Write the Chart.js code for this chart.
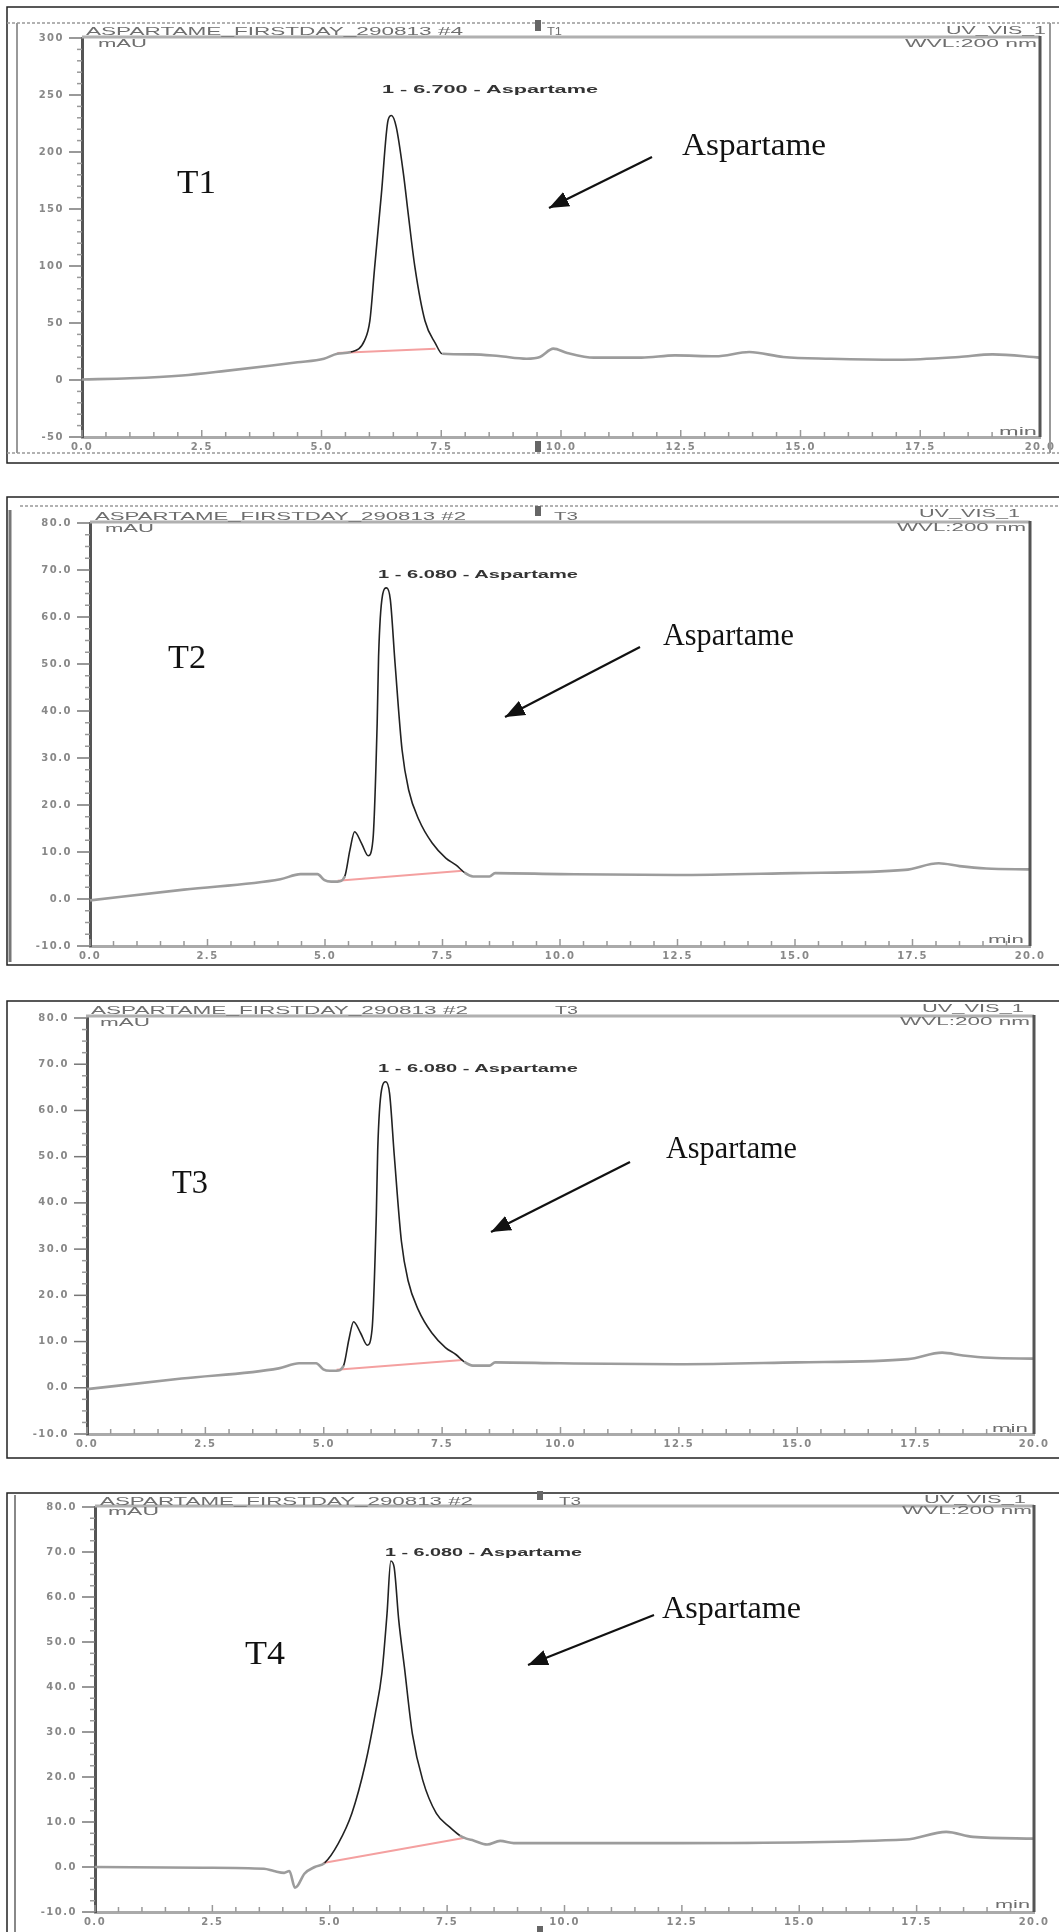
<!DOCTYPE html>
<html>
<head>
<meta charset="utf-8">
<script src="https://cdn.jsdelivr.net/npm/chart.js"></script>
<style>
html, body { margin: 0; padding: 0; background: #fff; }
#page { position: relative; width: 1059px; height: 1932px; overflow: hidden; }
canvas { position: absolute; left: 0; }
#over { position: absolute; left: 0; top: 0; pointer-events: none; }
.hdr { font: 11px 'Liberation Sans', Arial, sans-serif; fill: #6e6e6e; }
.pk { font: bold 10px 'Liberation Sans', Arial, sans-serif; fill: #333; }
.big { font: 34px 'Liberation Serif', 'Times New Roman', serif; fill: #111; }
.asp { font: 31px 'Liberation Serif', 'Times New Roman', serif; fill: #111; }
.frame { fill: none; stroke: #222; stroke-width: 1.5; }
.dot { stroke: #999; stroke-width: 1.5; stroke-dasharray: 3 2; }
.hline { stroke: #b0b0b0; stroke-width: 3; }
.vline { stroke: #555; stroke-width: 3; }
.arr { stroke: #111; stroke-width: 2.2; }
.mk { fill: #666; }
</style>
</head>
<body>
<div id="page">
<canvas id="c1"></canvas>
<canvas id="c2"></canvas>
<canvas id="c3"></canvas>
<canvas id="c4"></canvas>

<svg id="over" width="1059" height="1932" xmlns="http://www.w3.org/2000/svg">
  <defs>
    <marker id="ah" viewBox="0 0 10 8" refX="10" refY="4" markerWidth="9" markerHeight="7.5" orient="auto">
      <path d="M0,0 L10,4 L0,8 z" fill="#111"/>
    </marker>
  </defs>

  <!-- T1 -->
  <rect class="frame" x="7" y="7" width="1060" height="456"/>
  <line class="dot" x1="7" y1="23" x2="1059" y2="23"/>
  <line class="dot" x1="7" y1="453" x2="1059" y2="453"/>
  <line x1="17" y1="23" x2="17" y2="453" stroke="#999" stroke-width="2"/>
  <line x1="1050" y1="23" x2="1050" y2="453" stroke="#999" stroke-width="2"/>
  <line class="hline" x1="82" y1="37" x2="1040" y2="37"/>
  <line class="vline" x1="1040" y1="36" x2="1040" y2="437"/>
  <rect class="mk" x="535" y="20" width="6" height="11"/>
  <rect class="mk" x="535" y="441" width="6" height="11"/>
  <text class="hdr" x="86" y="35" textLength="377" lengthAdjust="spacingAndGlyphs">ASPARTAME_FIRSTDAY_290813 #4</text>
  <text class="hdr" x="547" y="35" textLength="15" lengthAdjust="spacingAndGlyphs">T1</text>
  <text class="hdr" x="946" y="34" textLength="100" lengthAdjust="spacingAndGlyphs">UV_VIS_1</text>
  <text class="hdr" x="905" y="47" textLength="132" lengthAdjust="spacingAndGlyphs">WVL:200 nm</text>
  <text class="hdr" x="98" y="47" textLength="49" lengthAdjust="spacingAndGlyphs">mAU</text>
  <text class="hdr" x="999" y="435" textLength="38" lengthAdjust="spacingAndGlyphs">min</text>
  <text class="pk" x="382" y="93" textLength="216" lengthAdjust="spacingAndGlyphs">1 - 6.700 - Aspartame</text>
  <text class="big" x="177" y="193" textLength="39" lengthAdjust="spacingAndGlyphs">T1</text>
  <text class="asp" x="682" y="155" textLength="144" lengthAdjust="spacingAndGlyphs">Aspartame</text>
  <line class="arr" x1="652" y1="157" x2="549" y2="208" marker-end="url(#ah)"/>

  <!-- T2 -->
  <rect class="frame" x="7" y="497" width="1060" height="468"/>
  <line class="dot" x1="20" y1="506" x2="1059" y2="506"/>
  <line x1="10" y1="510" x2="10" y2="962" stroke="#777" stroke-width="3"/>
  <line class="hline" x1="90" y1="522" x2="1030" y2="522"/>
  <line class="vline" x1="1030" y1="521" x2="1030" y2="946"/>
  <rect class="mk" x="535" y="506" width="6" height="10"/>
  <text class="hdr" x="95" y="520" textLength="371" lengthAdjust="spacingAndGlyphs">ASPARTAME_FIRSTDAY_290813 #2</text>
  <text class="hdr" x="554" y="520" textLength="24" lengthAdjust="spacingAndGlyphs">T3</text>
  <text class="hdr" x="919" y="517" textLength="101" lengthAdjust="spacingAndGlyphs">UV_VIS_1</text>
  <text class="hdr" x="897" y="531" textLength="129" lengthAdjust="spacingAndGlyphs">WVL:200 nm</text>
  <text class="hdr" x="105" y="532" textLength="49" lengthAdjust="spacingAndGlyphs">mAU</text>
  <text class="hdr" x="988" y="943" textLength="36" lengthAdjust="spacingAndGlyphs">min</text>
  <text class="pk" x="378" y="578" textLength="200" lengthAdjust="spacingAndGlyphs">1 - 6.080 - Aspartame</text>
  <text class="big" x="168" y="668" textLength="38" lengthAdjust="spacingAndGlyphs">T2</text>
  <text class="asp" x="663" y="645" textLength="131" lengthAdjust="spacingAndGlyphs">Aspartame</text>
  <line class="arr" x1="640" y1="647" x2="505" y2="717" marker-end="url(#ah)"/>

  <!-- T3 -->
  <rect class="frame" x="7" y="1001" width="1060" height="457"/>
  <line class="hline" x1="86" y1="1016" x2="1034" y2="1016"/>
  <line class="vline" x1="1034" y1="1015" x2="1034" y2="1434"/>
  <text class="hdr" x="91" y="1014" textLength="377" lengthAdjust="spacingAndGlyphs">ASPARTAME_FIRSTDAY_290813 #2</text>
  <text class="hdr" x="555" y="1014" textLength="23" lengthAdjust="spacingAndGlyphs">T3</text>
  <text class="hdr" x="922" y="1012" textLength="102" lengthAdjust="spacingAndGlyphs">UV_VIS_1</text>
  <text class="hdr" x="900" y="1025" textLength="130" lengthAdjust="spacingAndGlyphs">WVL:200 nm</text>
  <text class="hdr" x="100" y="1026" textLength="50" lengthAdjust="spacingAndGlyphs">mAU</text>
  <text class="hdr" x="992" y="1432" textLength="36" lengthAdjust="spacingAndGlyphs">min</text>
  <text class="pk" x="378" y="1072" textLength="200" lengthAdjust="spacingAndGlyphs">1 - 6.080 - Aspartame</text>
  <text class="big" x="172" y="1193" textLength="36" lengthAdjust="spacingAndGlyphs">T3</text>
  <text class="asp" x="666" y="1158" textLength="131" lengthAdjust="spacingAndGlyphs">Aspartame</text>
  <line class="arr" x1="630" y1="1162" x2="491" y2="1232" marker-end="url(#ah)"/>

  <!-- T4 -->
  <rect class="frame" x="7" y="1493" width="1060" height="460"/>
  <line x1="15" y1="1495" x2="15" y2="1932" stroke="#888" stroke-width="2"/>
  <line class="hline" x1="95" y1="1506" x2="1034" y2="1506"/>
  <line class="vline" x1="1034" y1="1505" x2="1034" y2="1912"/>
  <rect class="mk" x="537" y="1491" width="6" height="9"/>
  <rect class="mk" x="537" y="1926" width="6" height="6"/>
  <text class="hdr" x="100" y="1505" textLength="373" lengthAdjust="spacingAndGlyphs">ASPARTAME_FIRSTDAY_290813 #2</text>
  <text class="hdr" x="559" y="1505" textLength="22" lengthAdjust="spacingAndGlyphs">T3</text>
  <text class="hdr" x="924" y="1503" textLength="102" lengthAdjust="spacingAndGlyphs">UV_VIS_1</text>
  <text class="hdr" x="902" y="1514" textLength="130" lengthAdjust="spacingAndGlyphs">WVL:200 nm</text>
  <text class="hdr" x="108" y="1515" textLength="51" lengthAdjust="spacingAndGlyphs">mAU</text>
  <text class="hdr" x="995" y="1908" textLength="35" lengthAdjust="spacingAndGlyphs">min</text>
  <text class="pk" x="385" y="1556" textLength="197" lengthAdjust="spacingAndGlyphs">1 - 6.080 - Aspartame</text>
  <text class="big" x="245" y="1664" textLength="40" lengthAdjust="spacingAndGlyphs">T4</text>
  <text class="asp" x="662" y="1618" textLength="139" lengthAdjust="spacingAndGlyphs">Aspartame</text>
  <line class="arr" x1="654" y1="1615" x2="528" y2="1665" marker-end="url(#ah)"/>
</svg>
</div>

<script>
// retention time (min) and absorbance (mAU)
const t1Time = [0, 1, 2.09, 3, 3.92, 4.5, 5.05, 5.33, 5.61, 5.9, 6.01, 6.11, 6.25, 6.39, 6.46, 6.56, 6.71, 6.81, 6.95, 7.16, 7.38, 7.52, 8.15, 8.7, 9.28, 9.56, 9.84, 10.13, 10.69, 11.68, 12.38, 13.23, 13.93, 14.64, 15.63, 17.04, 18.31, 19.01, 20];
const t1Abs  = [0.5, 1.5, 4, 8, 12.5, 15.5, 18.7, 23, 24.5, 34.8, 52, 99, 163, 228, 232, 222, 181, 146, 99, 52, 32, 23, 22.5, 21, 18.7, 20.2, 27.5, 23.7, 19.6, 19.6, 21.6, 20.8, 24.5, 20.2, 18.7, 17.8, 20.2, 22.5, 19.6];
const t1BaseTime = [5.33, 7.38];
const t1BaseAbs  = [23.7, 27.5];

const t2Time = [0, 2, 4.05, 4.48, 4.84, 4.99, 5.13, 5.27, 5.42, 5.53, 5.63, 5.78, 5.92, 6.02, 6.11, 6.14, 6.22, 6.31, 6.39, 6.49, 6.64, 6.78, 7.0, 7.28, 7.57, 7.79, 7.97, 8.15, 8.5, 8.62, 10.0, 12.46, 15, 17.34, 18.06, 18.5, 19.07, 20];
const t2Abs  = [-0.3, 2, 4.2, 5.3, 5.3, 4.0, 3.7, 3.7, 4.8, 10.4, 14.3, 11.8, 9.2, 12.6, 37.4, 51.6, 64.4, 66.2, 63.7, 50.2, 31.7, 23.2, 16.8, 11.9, 8.7, 7.2, 5.6, 4.8, 4.8, 5.5, 5.3, 5.1, 5.5, 6.2, 7.6, 7.0, 6.5, 6.3];
const t2BaseTime = [5.27, 7.93];
const t2BaseAbs  = [3.9, 6.0];

// T3 shows the same run as T2
const t3Time = t2Time;
const t3Abs  = t2Abs;
const t3BaseTime = t2BaseTime;
const t3BaseAbs  = t2BaseAbs;

const t4Time = [0, 2.3, 3.6, 3.81, 4.03, 4.14, 4.26, 4.32, 4.46, 4.68, 4.89, 5.18, 5.47, 5.76, 5.97, 6.11, 6.22, 6.30, 6.37, 6.47, 6.59, 6.76, 6.98, 7.27, 7.55, 7.77, 7.91, 8.06, 8.35, 8.63, 8.92, 12.37, 17.27, 18.13, 18.7, 20];
const t4Abs  = [0.0, -0.15, -0.4, -0.9, -1.3, -0.9, -4.6, -4.1, -1.5, 0.0, 0.9, 5.2, 11.9, 23.0, 34.1, 43.0, 56.3, 68.0, 66.7, 54.8, 44.4, 29.6, 19.3, 11.9, 8.9, 7.0, 6.3, 5.9, 5.0, 5.8, 5.3, 5.3, 6.1, 7.8, 6.7, 6.3];
const t4BaseTime = [4.86, 7.88];
const t4BaseAbs  = [0.9, 6.5];

const xMajor = 2.5;

function pts(xs, ys) {
  return xs.map((x, i) => ({ x: x, y: ys[i] }));
}

function inPeak(c, peak) {
  return c.p0.parsed.x >= peak[0] && c.p1.parsed.x <= peak[1];
}

// wide-set tick labels like the instrument print-out
const spacing = {
  id: 'spacing',
  beforeDraw(chart) { chart.ctx.letterSpacing = '1.5px'; }
};

// short minor / long major tick marks
const tickMarks = {
  id: 'tickMarks',
  afterDraw(chart) {
    const ctx = chart.ctx, a = chart.chartArea;
    const xs = chart.scales.x, ys = chart.scales.y;
    const yMajor = chart.options.scales.y.major;
    ctx.save();
    ctx.lineWidth = 1.5;
    ys.ticks.forEach(t => {
      const py = ys.getPixelForValue(t.value);
      const major = t.value % yMajor === 0;
      ctx.strokeStyle = major ? '#777' : '#999';
      ctx.beginPath();
      ctx.moveTo(a.left - (major ? 13 : 5), py);
      ctx.lineTo(a.left, py);
      ctx.stroke();
    });
    xs.ticks.forEach(t => {
      const px = xs.getPixelForValue(t.value);
      const major = t.value % xMajor === 0;
      ctx.strokeStyle = '#999';
      ctx.beginPath();
      ctx.moveTo(px, a.bottom);
      ctx.lineTo(px, a.bottom - (major ? 7 : 5));
      ctx.stroke();
    });
    ctx.restore();
  }
};

function makeChart(id, area, time, abs, baseT, baseA, peak, y) {
  const cv = document.getElementById(id);
  const pad = 12, bottomH = 22;
  cv.width = 1059;
  cv.height = (area.b - area.t) + pad + 30;
  cv.style.top = (area.t - pad) + 'px';
  const tickFont = { family: 'DejaVu Sans', size: 10, weight: 'bold' };
  return new Chart(cv, {
    type: 'line',
    data: {
      datasets: [
        {
          data: pts(time, abs),
          borderColor: '#9c9c9c',
          borderWidth: 2.6,
          pointRadius: 0,
          cubicInterpolationMode: 'monotone',
          segment: {
            borderColor: c => inPeak(c, peak) ? '#222' : '#9c9c9c',
            borderWidth: c => inPeak(c, peak) ? 1.6 : 2.6
          }
        },
        {
          data: pts(baseT, baseA),
          borderColor: '#f4a0a0',
          borderWidth: 2,
          pointRadius: 0
        }
      ]
    },
    options: {
      responsive: false,
      animation: false,
      events: [],
      layout: { padding: { left: 0, right: 1059 - area.r, top: pad, bottom: 30 - bottomH } },
      plugins: { legend: { display: false }, tooltip: { enabled: false } },
      scales: {
        x: {
          type: 'linear', min: 0, max: 20,
          afterFit: s => { s.height = bottomH; s.paddingLeft = 0; s.paddingRight = 0; },
          ticks: {
            stepSize: 0.5, autoSkip: false, maxRotation: 0, padding: 4,
            color: '#888', font: tickFont,
            callback: v => v % xMajor === 0 ? v.toFixed(1) : ''
          },
          grid: { drawOnChartArea: false, drawTicks: false },
          border: { color: '#aaa', width: 3 }
        },
        y: {
          min: y.min, max: y.max, major: y.major,
          afterFit: s => { s.width = area.l; s.paddingTop = 0; s.paddingBottom = 0; },
          ticks: {
            stepSize: y.step, autoSkip: false, padding: 18,
            color: '#888', font: tickFont,
            callback: v => v % y.major === 0 ? y.fmt(v) : ''
          },
          grid: { drawOnChartArea: false, drawTicks: false },
          border: { color: '#555', width: 3 }
        }
      }
    },
    plugins: [spacing, tickMarks]
  });
}

const yBig   = { min: -50, max: 300, step: 10, major: 50, fmt: v => String(v) };
const ySmall = { min: -10, max: 80, step: 2.5, major: 10, fmt: v => v.toFixed(1) };

makeChart('c1', { l: 82, r: 1040, t: 38, b: 437 },   t1Time, t1Abs, t1BaseTime, t1BaseAbs, [5.5, 7.55], yBig);
makeChart('c2', { l: 90, r: 1030, t: 523, b: 946 },  t2Time, t2Abs, t2BaseTime, t2BaseAbs, [5.4, 8.0], ySmall);
makeChart('c3', { l: 87, r: 1034, t: 1018, b: 1434 }, t3Time, t3Abs, t3BaseTime, t3BaseAbs, [5.4, 8.0], ySmall);
makeChart('c4', { l: 95, r: 1034, t: 1507, b: 1912 }, t4Time, t4Abs, t4BaseTime, t4BaseAbs, [4.85, 7.9], ySmall);
</script>
</body>
</html>
